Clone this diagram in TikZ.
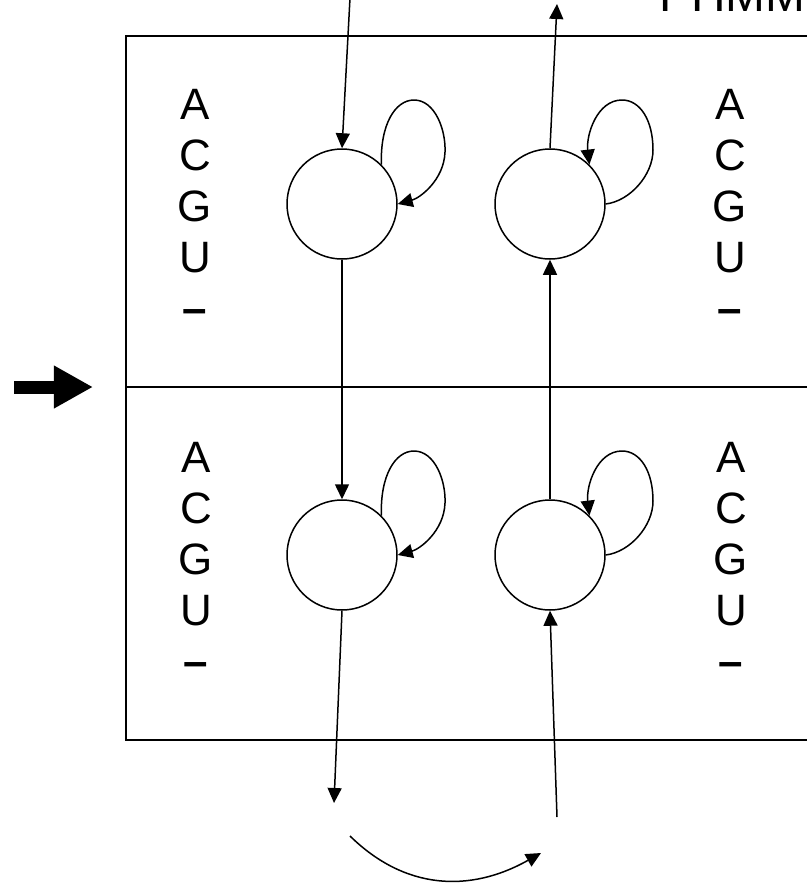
\documentclass[tikz,border=0pt]{standalone}
\usepackage{fontspec}
\setmainfont{Liberation Sans}
\usetikzlibrary{arrows.meta}

\def \frameW{0.4mm}
\def \thinW{0.3mm}

\tikzset{
 state/.style={circle, draw, line width=\thinW, minimum size=22mm, inner sep=0pt},
 arr/.style={line width=\thinW, -{Triangle[length=3mm,width=2.8mm]}},
 emit/.style={align=center, anchor=north, inner sep=0pt, font=\fontsize{25}{29}\selectfont},
}

\begin{document}
\begin{tikzpicture}[x=0.2mm, y=-0.2mm]
\useasboundingbox (0,0) rectangle (807,887);

% frame
\draw[line width=\frameW] (830,36) -- (126,36) -- (126,740) -- (830,740);
\draw[line width=\frameW] (126,387) -- (830,387);

\node[anchor=south west, inner sep=0pt, font=\fontsize{27.2}{30}\selectfont] (title) at (659,12) {PHMM};

% emission columns
\node[emit] (eTL) at (195,89) {A\\C\\G\\U\\{\bfseries –}};
\node[emit] (eTR) at (730,89) {A\\C\\G\\U\\{\bfseries –}};
\node[emit] (eBL) at (196,442) {A\\C\\G\\U\\{\bfseries –}};
\node[emit] (eBR) at (731,442) {A\\C\\G\\U\\{\bfseries –}};

% states
\node[state] (tl) at (342,204) {};
\node[state] (tr) at (550,204) {};
\node[state] (bl) at (342,555) {};
\node[state] (br) at (550,555) {};

% transitions
\coordinate (in) at (350,-2);
\coordinate (out) at (557,4);
\coordinate (exit) at (334,803);
\coordinate (back) at (557,817);
\draw[arr] (in) -- (tl.north);
\draw[arr] (tr.north) -- (out);
\draw[arr] (tl) -- (bl);
\draw[arr] (br) -- (tr);
\draw[arr] (bl.south) -- (exit);
\draw[arr] (back) -- (br.south);

% self loops
\draw[arr] (tl.45) .. controls (380,125) and (395,100) .. (414,100)
 .. controls (435,100) and (446,130) .. (445,152)
 .. controls (444,180) and (420,198) .. (tl.east);
\draw[arr] (bl.45) .. controls (380,476) and (395,451) .. (414,451)
 .. controls (435,451) and (446,481) .. (445,503)
 .. controls (444,531) and (420,549) .. (bl.east);
\draw[arr] (tr.east) .. controls (630,201) and (653,175) .. (653,150)
 .. controls (653,120) and (640,100) .. (622,100)
 .. controls (597,100) and (586,135) .. (tr.45);
\draw[arr] (br.east) .. controls (630,552) and (653,526) .. (653,501)
 .. controls (653,471) and (640,451) .. (622,451)
 .. controls (597,451) and (586,486) .. (br.45);

% wrap-around
\coordinate (sw1) at (350,836);
\coordinate (sw2) at (541,853);
\draw[arr] (sw1) .. controls (405,890) and (470,893) .. (sw2);

% start arrow
\coordinate (go) at (14,387);
\coordinate (entry) at (93,387);
\draw[line width=2.6mm, -{Triangle[length=7.8mm,width=8mm]}] (go) -- (entry);
\end{tikzpicture}
\end{document}
